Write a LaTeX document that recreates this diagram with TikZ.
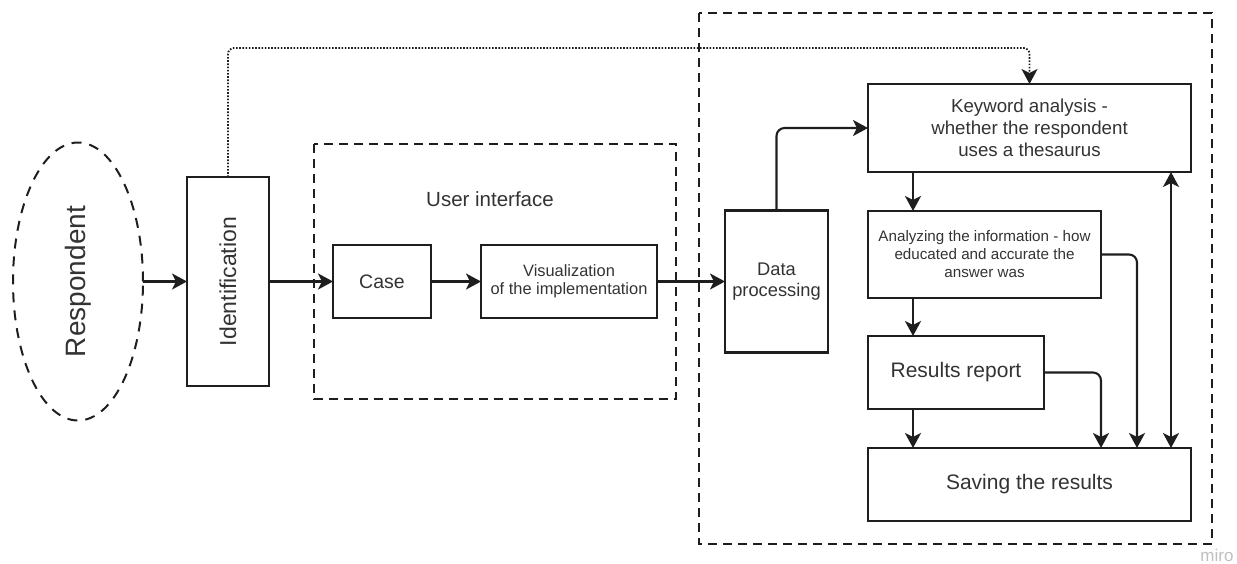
\documentclass[tikz,border=0pt]{standalone}
\usepackage{fontspec}
\setmainfont{Liberation Sans}
\usetikzlibrary{arrows.meta,positioning,shapes.geometric}

\definecolor{ink}{HTML}{1E1E1E}
\definecolor{txt}{HTML}{333333}

\begin{document}
\begin{tikzpicture}[
        x=1pt, y=-1pt,
        >={Stealth[length=15pt,width=16pt,inset=4pt]},
        box/.style={rectangle,draw=ink,line width=2.5pt,text=txt,inner sep=2pt,outer sep=0pt,align=center},
        arrow/.style={->,draw=ink,line width=2.1pt},
        group/.style={draw=ink,line width=2.2pt,dash pattern=on 9pt off 6pt},
        dotline/.style={->,draw=ink,line width=1.8pt,dash pattern=on 1.6pt off 1.6pt}
    ]
        \useasboundingbox (0,0) rectangle (1237,563);

        % frames around the two stages
        \draw[group] (314,144) rectangle (676,399);
        \node[text=txt,font=\fontsize{20.5}{24}\selectfont] (uilabel) at (490,199) {User interface};
        \draw[group] (699,13) rectangle (1212,544);

        % left chain
        \node[box,minimum width=82pt,minimum height=209pt,font=\fontsize{23}{27}\selectfont] (ident) at (228,281.5) {\rotatebox{90}{Identification}};
        \node[ellipse,draw=ink,line width=2pt,dash pattern=on 10pt off 8pt,minimum width=130pt,minimum height=278pt,inner sep=0pt,outer sep=0pt,text=txt,font=\fontsize{28}{32}\selectfont,left=44pt of ident] (resp) {\rotatebox{90}{Respondent}};
        \node[box,minimum width=98pt,minimum height=73pt,font=\fontsize{19.5}{23}\selectfont,right=64pt of ident] (case) {Case};
        \node[box,minimum width=176pt,minimum height=73pt,font=\fontsize{16.4}{18}\selectfont,right=50pt of case] (vis) {Visualization\\of the implementation};
        \node[box,minimum width=103pt,minimum height=142pt,font=\fontsize{18.3}{21}\selectfont,right=68pt of vis] (data) {Data\\processing};

        % right column
        \node[box,minimum width=323pt,minimum height=88pt,font=\fontsize{18.7}{22}\selectfont] (keyword) at (1029.5,128) {Keyword analysis -\\whether the respondent\\uses a thesaurus};
        \node[box,minimum width=233pt,minimum height=87pt,font=\fontsize{15.2}{18}\selectfont,below=39pt of keyword.south west,anchor=north west] (analysis) {Analyzing the information - how\\educated and accurate the\\answer was};
        \node[box,minimum width=176pt,minimum height=73pt,font=\fontsize{21}{25}\selectfont,below=38pt of analysis.south west,anchor=north west] (report) {Results report};
        \node[box,minimum width=323pt,minimum height=73pt,font=\fontsize{21}{25}\selectfont,below=39pt of report.south west,anchor=north west] (saving) {Saving the results};

        \node[text=black!25,font=\fontsize{17}{20}\selectfont] (miro) at (1217,555) {miro};

        \draw[arrow] (resp) -- (ident);
        \draw[arrow] (ident) -- (case);
        \draw[arrow] (case) -- (vis);
        \draw[arrow] (vis) -- (data);
        \draw[arrow,rounded corners=8pt] (data.north) |- (keyword.west);
        \draw[dotline,rounded corners=6pt] (ident.north) |- ([yshift=36pt]keyword.north) -- (keyword.north);

        \draw[arrow] ([xshift=45pt]keyword.south west) -- ([xshift=45pt]analysis.north west);
        \draw[arrow] ([xshift=45pt]analysis.south west) -- ([xshift=45pt]report.north west);
        \draw[arrow] ([xshift=45pt]report.south west) -- ([xshift=45pt]saving.north west);
        \draw[arrow,rounded corners=8pt] (analysis.east) -| ([xshift=-54pt]saving.north east);
        \draw[arrow,rounded corners=8pt] (report.east) -| ([xshift=-90pt]saving.north east);
        \draw[arrow,<->] ([xshift=-20pt]keyword.south east) -- ([xshift=-20pt]saving.north east);
    \end{tikzpicture}
\end{document}
